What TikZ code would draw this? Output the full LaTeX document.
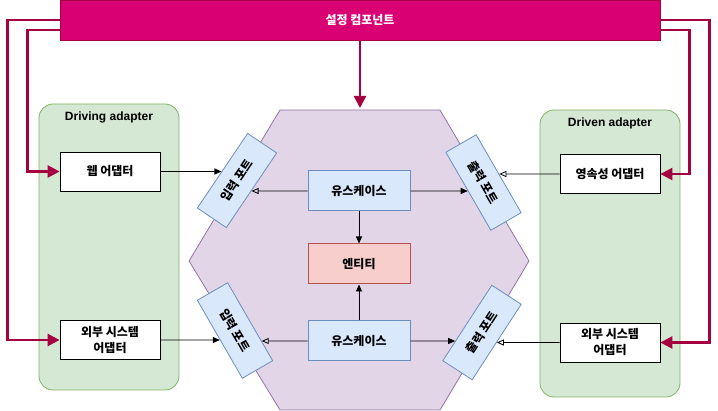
\documentclass[tikz,border=0pt]{standalone}
\usepackage{fontspec}
\setmainfont{Noto Sans CJK KR}
\newfontfamily\latinfont{Liberation Sans}
\usetikzlibrary{arrows.meta,positioning}

\definecolor{cfgfill}{HTML}{D80073}
\definecolor{cfgline}{HTML}{A50040}
\definecolor{groupfill}{HTML}{D5E8D4}
\definecolor{groupline}{HTML}{82B366}
\definecolor{hexfill}{HTML}{E1D5E7}
\definecolor{hexline}{HTML}{9673A6}
\definecolor{ucfill}{HTML}{DAE8FC}
\definecolor{ucline}{HTML}{6C8EBF}
\definecolor{entfill}{HTML}{F8CECC}
\definecolor{entline}{HTML}{B85450}

\tikzstyle{cfg} = [draw=cfgline, fill=cfgfill, line width=0.8pt, text=white, font=\bfseries\fontsize{12}{14}\selectfont, minimum width=600pt, minimum height=40pt]
\tikzstyle{group} = [draw=groupline, fill=groupfill, line width=0.8pt, rounded corners=14pt, minimum width=140pt]
\tikzstyle{grouptitle} = [font=\latinfont\bfseries\fontsize{12}{14}\selectfont]
\tikzstyle{adapter} = [draw, fill=white, line width=0.8pt, minimum width=100pt, minimum height=39pt, align=center, font=\bfseries\fontsize{12}{16}\selectfont]
\tikzstyle{usecase} = [draw=ucline, fill=ucfill, line width=1pt, minimum width=102pt, minimum height=40pt, font=\bfseries\fontsize{12}{14}\selectfont]
\tikzstyle{entity} = [usecase, draw=entline, fill=entfill]
\tikzstyle{port} = [draw=ucline, fill=ucfill, line width=0.8pt, minimum width=90pt, minimum height=35pt, font=\bfseries\fontsize{12}{14}\selectfont]
\tikzstyle{cfgarrow} = [draw=cfgline, line width=2.5pt, -{Triangle[length=12pt,width=12pt]}]
\tikzstyle{call} = [line width=0.8pt, -{Triangle[length=7pt,width=6pt]}]
\tikzstyle{impl} = [line width=0.8pt, -{Triangle[open,length=7pt,width=6pt]}]

\begin{document}
\begin{tikzpicture}[x=1pt, y=-1pt]
\useasboundingbox (0,0) rectangle (718,411);
%hexagon
\draw[draw=hexline, fill=hexfill, line width=0.8pt] (280,110) -- (440,110) -- (529,261) -- (440,410) -- (280,410) -- (189,261) -- cycle;
\coordinate (hextop) at (360,108);
%begin groups
\node[group, minimum height=286pt] (driving) at (109,247) {};
\node[grouptitle, below=5pt of driving.north] (drivingTitle) {Driving adapter};
\node[group, minimum height=287pt] (driven) at (610,253.5) {};
\node[grouptitle, below=5pt of driven.north] (drivenTitle) {Driven adapter};
%end groups
%begin adapters
\node[adapter] (web) at (110,171.5) {웹 어댑터};
\node[adapter] (extIn) at (110,340) {외부 시스템\\어댑터};
\node[adapter] (persist) at (610,174) {영속성 어댑터};
\node[adapter] (extOut) at (610,342.5) {외부 시스템\\어댑터};
%end adapters
%begin core
\node[usecase] (uc1) at (359,191) {유스케이스};
\node[entity] (ent) at (359,264) {엔티티};
\node[usecase] (uc2) at (359,341) {유스케이스};
%end core
%begin ports
\node[port, rotate=56] (inA) at (237,180.5) {입력 포트};
\node[port, rotate=-60] (inB) at (235,330.5) {입력 포트};
\node[port, rotate=-60] (outA) at (483.5,182.5) {출력 포트};
\node[port, rotate=57] (outB) at (482,332.5) {출력 포트};
%end ports
%config component
\node[cfg] (cfg) at (360,20) {설정 컴포넌트};
\draw[cfgarrow] (cfg.south) -- (hextop);
\draw[cfgarrow] (cfg.west) -- ++(-52,0) |- (extIn.west);
\draw[cfgarrow] ([yshift=-10pt]cfg.west) -- ++(-32,0) |- (web.west);
\draw[cfgarrow] (cfg.east) -- ++(49,0) |- (extOut.east);
\draw[cfgarrow] ([yshift=-10pt]cfg.east) -- ++(29,0) |- (persist.east);
%begin inside arrows
\draw[call] (uc1) -- (ent);
\draw[call] (uc2) -- (ent);
\draw[call] (web.east) -- (intersection of web.east--web.west and inA.north west--inA.north east);
\draw[call] (extIn.east) -- (intersection of extIn.east--extIn.west and inB.south west--inB.south east);
\draw[impl] (uc1.west) -- (intersection of uc1.west--uc1.east and inA.south west--inA.south east);
\draw[impl] (uc2.west) -- (intersection of uc2.west--uc2.east and inB.north west--inB.north east);
\draw[call] (uc1.east) -- (intersection of uc1.east--uc1.west and outA.south west--outA.south east);
\draw[call] (uc2.east) -- (intersection of uc2.east--uc2.west and outB.north west--outB.north east);
\draw[impl] (persist.west) -- (intersection of persist.west--persist.east and outA.north west--outA.north east);
\draw[impl] (extOut.west) -- (intersection of extOut.west--extOut.east and outB.south west--outB.south east);
%end inside arrows
\end{tikzpicture}
\end{document}
